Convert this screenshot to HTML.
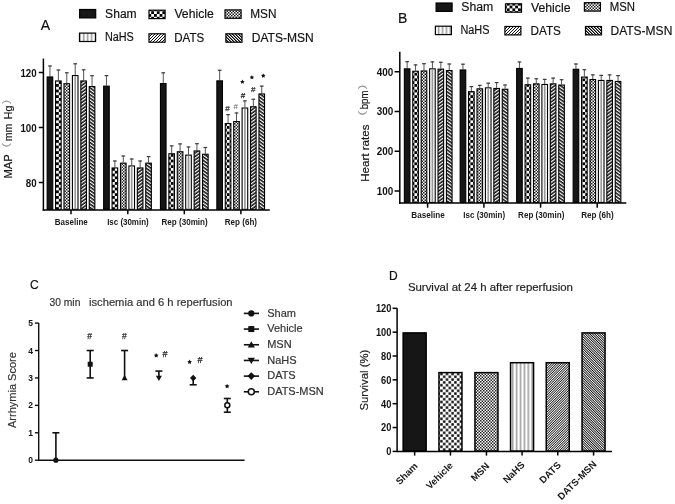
<!DOCTYPE html><html><head><meta charset="utf-8"><style>html,body{margin:0;padding:0;background:#fff;}body{width:675px;height:504px;overflow:hidden;}svg{display:block;font-family:"Liberation Sans", sans-serif;will-change:transform;}</style></head><body>
<svg width="675" height="504" viewBox="0 0 675 504">
<defs>
<pattern id="pVeh" width="5.6" height="5.6" patternUnits="userSpaceOnUse"><rect width="5.6" height="5.6" fill="#fff"/><rect width="2.8" height="2.8" fill="#000"/><rect x="2.8" y="2.8" width="2.8" height="2.8" fill="#000"/></pattern>
<pattern id="pVehD" x="0.4" y="0.2" width="5.6" height="5.6" patternUnits="userSpaceOnUse"><rect width="5.6" height="5.6" fill="#fff"/><rect x="0.2" y="0.2" width="2.4" height="2.4" fill="#000"/><rect x="3.0" y="3.0" width="2.4" height="2.4" fill="#000"/></pattern>
<pattern id="pMsn" width="3" height="3" patternUnits="userSpaceOnUse"><rect width="3" height="3" fill="#fff"/><rect width="1.5" height="1.5" fill="#222"/><rect x="1.5" y="1.5" width="1.5" height="1.5" fill="#222"/></pattern>
<pattern id="pNahs" width="3.9" height="4" patternUnits="userSpaceOnUse"><rect width="3.9" height="4" fill="#fff"/><rect x="1.4" width="0.9" height="4" fill="#555"/></pattern>
<pattern id="pDats" width="1.72" height="4" patternUnits="userSpaceOnUse" patternTransform="rotate(45)"><rect width="1.72" height="4" fill="#fff"/><rect width="0.8" height="4" fill="#111"/></pattern>
<pattern id="pDm" width="1.72" height="4" patternUnits="userSpaceOnUse" patternTransform="rotate(-45)"><rect width="1.72" height="4" fill="#fff"/><rect width="0.88" height="4" fill="#111"/></pattern>
<pattern id="pDatsL" width="3" height="3" patternUnits="userSpaceOnUse" shape-rendering="crispEdges"><rect width="3" height="3" fill="#fff"/><rect x="0" y="2" width="1" height="1" fill="#111"/><rect x="1" y="1" width="1" height="1" fill="#111"/><rect x="2" y="0" width="1" height="1" fill="#111"/></pattern>
<pattern id="pDmL" width="3" height="3" patternUnits="userSpaceOnUse" shape-rendering="crispEdges"><rect width="3" height="3" fill="#fff"/><rect x="0" y="0" width="1" height="1" fill="#000"/><rect x="1" y="1" width="1" height="1" fill="#000"/><rect x="2" y="2" width="1" height="1" fill="#000"/><rect x="1" y="0" width="1" height="1" fill="#777"/><rect x="2" y="1" width="1" height="1" fill="#777"/><rect x="0" y="2" width="1" height="1" fill="#777"/></pattern>
<pattern id="pDatsS" width="2.8" height="4" patternUnits="userSpaceOnUse" patternTransform="rotate(55)"><rect width="2.8" height="4" fill="#111"/><rect width="1.25" height="4" fill="#fff"/></pattern>
<pattern id="pDmS" width="2.8" height="4" patternUnits="userSpaceOnUse" patternTransform="rotate(-55)"><rect width="2.8" height="4" fill="#111"/><rect width="1.25" height="4" fill="#fff"/></pattern>
</defs>
<text x="40.70" y="30.30" font-size="14" text-anchor="start" fill="#111" stroke="#111" stroke-width="0.18">A</text>
<rect x="79.60" y="9.50" width="16.10" height="8.40" fill="#161616" stroke="#000" stroke-width="1.2"/>
<text x="105.10" y="17.90" font-size="12" text-anchor="start" fill="#111" stroke="#111" stroke-width="0.18" textLength="31.6" lengthAdjust="spacingAndGlyphs">Sham</text>
<rect x="149.00" y="10.20" width="16.10" height="8.40" fill="url(#pVeh)" stroke="#000" stroke-width="1.2"/>
<text x="174.40" y="18.40" font-size="12" text-anchor="start" fill="#111" stroke="#111" stroke-width="0.18" textLength="39.4" lengthAdjust="spacingAndGlyphs">Vehicle</text>
<rect x="225.00" y="9.90" width="16.10" height="8.40" fill="url(#pMsn)" stroke="#000" stroke-width="1.2"/>
<text x="250.30" y="18.10" font-size="12" text-anchor="start" fill="#111" stroke="#111" stroke-width="0.18" textLength="26.2" lengthAdjust="spacingAndGlyphs">MSN</text>
<rect x="79.50" y="33.10" width="16.10" height="8.40" fill="url(#pNahs)" stroke="#000" stroke-width="1.2"/>
<text x="104.90" y="40.90" font-size="12" text-anchor="start" fill="#111" stroke="#111" stroke-width="0.18" textLength="28.9" lengthAdjust="spacingAndGlyphs">NaHS</text>
<rect x="149.00" y="33.80" width="16.10" height="8.40" fill="url(#pDatsL)" stroke="#000" stroke-width="1.2"/>
<text x="174.30" y="41.60" font-size="12" text-anchor="start" fill="#111" stroke="#111" stroke-width="0.18" textLength="29.9" lengthAdjust="spacingAndGlyphs">DATS</text>
<rect x="225.90" y="33.80" width="16.10" height="8.40" fill="url(#pDmL)" stroke="#000" stroke-width="1.2"/>
<text x="251.70" y="41.60" font-size="12" text-anchor="start" fill="#111" stroke="#111" stroke-width="0.18" textLength="62.0" lengthAdjust="spacingAndGlyphs">DATS-MSN</text>
<g stroke="#000" stroke-width="1.5" fill="none">
<line x1="43.4" y1="58.6" x2="43.4" y2="210.6"/>
<line x1="42.6" y1="209.9" x2="269.8" y2="209.9"/>
<line x1="38.8" y1="72.50" x2="43.4" y2="72.50"/>
<line x1="38.8" y1="127.50" x2="43.4" y2="127.50"/>
<line x1="38.8" y1="182.50" x2="43.4" y2="182.50"/>
<line x1="71.0" y1="209.9" x2="71.0" y2="214.3"/>
<line x1="127.8" y1="209.9" x2="127.8" y2="214.3"/>
<line x1="184.3" y1="209.9" x2="184.3" y2="214.3"/>
<line x1="240.9" y1="209.9" x2="240.9" y2="214.3"/>
</g>
<text x="36.60" y="76.50" font-size="11" font-weight="bold" text-anchor="end" fill="#111" textLength="16.2" lengthAdjust="spacingAndGlyphs">120</text>
<text x="36.60" y="131.50" font-size="11" font-weight="bold" text-anchor="end" fill="#111" textLength="16.2" lengthAdjust="spacingAndGlyphs">100</text>
<text x="36.60" y="186.50" font-size="11" font-weight="bold" text-anchor="end" fill="#111" textLength="10.8" lengthAdjust="spacingAndGlyphs">80</text>
<text transform="translate(11.90,178.60) rotate(-90)" font-size="11.5" text-anchor="start" fill="#111" stroke="#111" stroke-width="0.18" textLength="24.2" lengthAdjust="spacingAndGlyphs">MAP</text>
<text transform="translate(8.60,147.60) rotate(-90)" font-size="9" text-anchor="start" fill="#999" textLength="4.6" lengthAdjust="spacingAndGlyphs">(</text>
<text transform="translate(11.90,141.30) rotate(-90)" font-size="11.5" text-anchor="start" fill="#111" stroke="#111" stroke-width="0.18" textLength="17.5" lengthAdjust="spacingAndGlyphs">mm</text>
<text transform="translate(11.90,119.20) rotate(-90)" font-size="11.5" text-anchor="start" fill="#111" stroke="#111" stroke-width="0.18" textLength="13.5" lengthAdjust="spacingAndGlyphs">Hg</text>
<text transform="translate(8.60,104.30) rotate(-90)" font-size="9" text-anchor="start" fill="#999" textLength="4.6" lengthAdjust="spacingAndGlyphs">)</text>
<text x="71.30" y="224.70" font-size="8.7" font-weight="bold" text-anchor="middle" fill="#1a1a1a" textLength="32.9" lengthAdjust="spacingAndGlyphs">Baseline</text>
<text x="127.90" y="224.70" font-size="8.7" font-weight="bold" text-anchor="middle" fill="#1a1a1a" textLength="41.5" lengthAdjust="spacingAndGlyphs">Isc (30min)</text>
<text x="184.60" y="224.70" font-size="8.7" font-weight="bold" text-anchor="middle" fill="#1a1a1a" textLength="46.2" lengthAdjust="spacingAndGlyphs">Rep (30min)</text>
<text x="240.90" y="224.70" font-size="8.7" font-weight="bold" text-anchor="middle" fill="#1a1a1a" textLength="32.3" lengthAdjust="spacingAndGlyphs">Rep (6h)</text>
<line x1="49.95" y1="76.40" x2="49.95" y2="65.50" stroke="#555" stroke-width="1.0"/>
<line x1="48.10" y1="66.00" x2="51.80" y2="66.00" stroke="#3a3a3a" stroke-width="1.2"/>
<rect x="47.15" y="76.95" width="5.60" height="132.35" fill="#161616" stroke="#000" stroke-width="1.1"/>
<line x1="58.37" y1="80.40" x2="58.37" y2="69.50" stroke="#555" stroke-width="1.0"/>
<line x1="56.52" y1="70.00" x2="60.22" y2="70.00" stroke="#3a3a3a" stroke-width="1.2"/>
<rect x="55.57" y="80.95" width="5.60" height="128.35" fill="url(#pVeh)" stroke="#000" stroke-width="1.1"/>
<line x1="66.79" y1="83.20" x2="66.79" y2="72.30" stroke="#555" stroke-width="1.0"/>
<line x1="64.94" y1="72.80" x2="68.64" y2="72.80" stroke="#3a3a3a" stroke-width="1.2"/>
<rect x="63.99" y="83.75" width="5.60" height="125.55" fill="url(#pMsn)" stroke="#000" stroke-width="1.1"/>
<line x1="75.21" y1="75.00" x2="75.21" y2="63.30" stroke="#555" stroke-width="1.0"/>
<line x1="73.36" y1="63.80" x2="77.06" y2="63.80" stroke="#3a3a3a" stroke-width="1.2"/>
<rect x="72.41" y="75.55" width="5.60" height="133.75" fill="#fff" stroke="#000" stroke-width="1.1"/>
<line x1="75.21" y1="76.20" x2="75.21" y2="209" stroke="#999" stroke-width="1.7"/>
<line x1="83.63" y1="80.40" x2="83.63" y2="69.30" stroke="#555" stroke-width="1.0"/>
<line x1="81.78" y1="69.80" x2="85.48" y2="69.80" stroke="#3a3a3a" stroke-width="1.2"/>
<rect x="80.83" y="80.95" width="5.60" height="128.35" fill="url(#pDatsS)" stroke="#000" stroke-width="1.1"/>
<line x1="92.05" y1="86.00" x2="92.05" y2="75.20" stroke="#555" stroke-width="1.0"/>
<line x1="90.20" y1="75.70" x2="93.90" y2="75.70" stroke="#3a3a3a" stroke-width="1.2"/>
<rect x="89.25" y="86.55" width="5.60" height="122.75" fill="url(#pDmS)" stroke="#000" stroke-width="1.1"/>
<line x1="106.45" y1="85.60" x2="106.45" y2="75.10" stroke="#555" stroke-width="1.0"/>
<line x1="104.60" y1="75.60" x2="108.30" y2="75.60" stroke="#3a3a3a" stroke-width="1.2"/>
<rect x="103.65" y="86.15" width="5.60" height="123.15" fill="#161616" stroke="#000" stroke-width="1.1"/>
<line x1="114.87" y1="167.40" x2="114.87" y2="160.50" stroke="#555" stroke-width="1.0"/>
<line x1="113.02" y1="161.00" x2="116.72" y2="161.00" stroke="#3a3a3a" stroke-width="1.2"/>
<rect x="112.07" y="167.95" width="5.60" height="41.35" fill="url(#pVeh)" stroke="#000" stroke-width="1.1"/>
<line x1="123.29" y1="162.60" x2="123.29" y2="155.50" stroke="#555" stroke-width="1.0"/>
<line x1="121.44" y1="156.00" x2="125.14" y2="156.00" stroke="#3a3a3a" stroke-width="1.2"/>
<rect x="120.49" y="163.15" width="5.60" height="46.15" fill="url(#pMsn)" stroke="#000" stroke-width="1.1"/>
<line x1="131.71" y1="165.40" x2="131.71" y2="158.50" stroke="#555" stroke-width="1.0"/>
<line x1="129.86" y1="159.00" x2="133.56" y2="159.00" stroke="#3a3a3a" stroke-width="1.2"/>
<rect x="128.91" y="165.95" width="5.60" height="43.35" fill="#fff" stroke="#000" stroke-width="1.1"/>
<line x1="131.71" y1="166.60" x2="131.71" y2="209" stroke="#999" stroke-width="1.7"/>
<line x1="140.13" y1="167.40" x2="140.13" y2="160.50" stroke="#555" stroke-width="1.0"/>
<line x1="138.28" y1="161.00" x2="141.98" y2="161.00" stroke="#3a3a3a" stroke-width="1.2"/>
<rect x="137.33" y="167.95" width="5.60" height="41.35" fill="url(#pDatsS)" stroke="#000" stroke-width="1.1"/>
<line x1="148.55" y1="162.60" x2="148.55" y2="156.10" stroke="#555" stroke-width="1.0"/>
<line x1="146.70" y1="156.60" x2="150.40" y2="156.60" stroke="#3a3a3a" stroke-width="1.2"/>
<rect x="145.75" y="163.15" width="5.60" height="46.15" fill="url(#pDmS)" stroke="#000" stroke-width="1.1"/>
<line x1="163.25" y1="83.00" x2="163.25" y2="72.30" stroke="#555" stroke-width="1.0"/>
<line x1="161.40" y1="72.80" x2="165.10" y2="72.80" stroke="#3a3a3a" stroke-width="1.2"/>
<rect x="160.45" y="83.55" width="5.60" height="125.75" fill="#161616" stroke="#000" stroke-width="1.1"/>
<line x1="171.67" y1="153.20" x2="171.67" y2="145.40" stroke="#555" stroke-width="1.0"/>
<line x1="169.82" y1="145.90" x2="173.52" y2="145.90" stroke="#3a3a3a" stroke-width="1.2"/>
<rect x="168.87" y="153.75" width="5.60" height="55.55" fill="url(#pVeh)" stroke="#000" stroke-width="1.1"/>
<line x1="180.09" y1="151.20" x2="180.09" y2="143.40" stroke="#555" stroke-width="1.0"/>
<line x1="178.24" y1="143.90" x2="181.94" y2="143.90" stroke="#3a3a3a" stroke-width="1.2"/>
<rect x="177.29" y="151.75" width="5.60" height="57.55" fill="url(#pMsn)" stroke="#000" stroke-width="1.1"/>
<line x1="188.51" y1="154.60" x2="188.51" y2="146.50" stroke="#555" stroke-width="1.0"/>
<line x1="186.66" y1="147.00" x2="190.36" y2="147.00" stroke="#3a3a3a" stroke-width="1.2"/>
<rect x="185.71" y="155.15" width="5.60" height="54.15" fill="#fff" stroke="#000" stroke-width="1.1"/>
<line x1="188.51" y1="155.80" x2="188.51" y2="209" stroke="#999" stroke-width="1.7"/>
<line x1="196.93" y1="150.40" x2="196.93" y2="143.20" stroke="#555" stroke-width="1.0"/>
<line x1="195.08" y1="143.70" x2="198.78" y2="143.70" stroke="#3a3a3a" stroke-width="1.2"/>
<rect x="194.13" y="150.95" width="5.60" height="58.35" fill="url(#pDatsS)" stroke="#000" stroke-width="1.1"/>
<line x1="205.35" y1="153.70" x2="205.35" y2="147.00" stroke="#555" stroke-width="1.0"/>
<line x1="203.50" y1="147.50" x2="207.20" y2="147.50" stroke="#3a3a3a" stroke-width="1.2"/>
<rect x="202.55" y="154.25" width="5.60" height="55.05" fill="url(#pDmS)" stroke="#000" stroke-width="1.1"/>
<line x1="219.65" y1="80.30" x2="219.65" y2="69.80" stroke="#555" stroke-width="1.0"/>
<line x1="217.80" y1="70.30" x2="221.50" y2="70.30" stroke="#3a3a3a" stroke-width="1.2"/>
<rect x="216.85" y="80.85" width="5.60" height="128.45" fill="#161616" stroke="#000" stroke-width="1.1"/>
<line x1="228.07" y1="123.00" x2="228.07" y2="114.10" stroke="#555" stroke-width="1.0"/>
<line x1="226.22" y1="114.60" x2="229.92" y2="114.60" stroke="#3a3a3a" stroke-width="1.2"/>
<rect x="225.27" y="123.55" width="5.60" height="85.75" fill="url(#pVeh)" stroke="#000" stroke-width="1.1"/>
<line x1="236.49" y1="121.00" x2="236.49" y2="112.50" stroke="#555" stroke-width="1.0"/>
<line x1="234.64" y1="113.00" x2="238.34" y2="113.00" stroke="#3a3a3a" stroke-width="1.2"/>
<rect x="233.69" y="121.55" width="5.60" height="87.75" fill="url(#pMsn)" stroke="#000" stroke-width="1.1"/>
<line x1="244.91" y1="107.50" x2="244.91" y2="100.40" stroke="#555" stroke-width="1.0"/>
<line x1="243.06" y1="100.90" x2="246.76" y2="100.90" stroke="#3a3a3a" stroke-width="1.2"/>
<rect x="242.11" y="108.05" width="5.60" height="101.25" fill="#fff" stroke="#000" stroke-width="1.1"/>
<line x1="244.91" y1="108.70" x2="244.91" y2="209" stroke="#999" stroke-width="1.7"/>
<line x1="253.33" y1="106.20" x2="253.33" y2="98.75" stroke="#555" stroke-width="1.0"/>
<line x1="251.48" y1="99.25" x2="255.18" y2="99.25" stroke="#3a3a3a" stroke-width="1.2"/>
<rect x="250.53" y="106.75" width="5.60" height="102.55" fill="url(#pDatsS)" stroke="#000" stroke-width="1.1"/>
<line x1="261.75" y1="93.40" x2="261.75" y2="85.60" stroke="#555" stroke-width="1.0"/>
<line x1="259.90" y1="86.10" x2="263.60" y2="86.10" stroke="#3a3a3a" stroke-width="1.2"/>
<rect x="258.95" y="93.95" width="5.60" height="115.35" fill="url(#pDmS)" stroke="#000" stroke-width="1.1"/>
<polygon points="242.40,79.50 243.11,80.93 244.68,81.16 243.54,82.27 243.81,83.84 242.40,83.10 240.99,83.84 241.26,82.27 240.12,81.16 241.69,80.93" fill="#111"/>
<polygon points="251.90,75.00 252.61,76.43 254.18,76.66 253.04,77.77 253.31,79.34 251.90,78.60 250.49,79.34 250.76,77.77 249.62,76.66 251.19,76.43" fill="#111"/>
<polygon points="263.30,73.40 264.01,74.83 265.58,75.06 264.44,76.17 264.71,77.74 263.30,77.00 261.89,77.74 262.16,76.17 261.02,75.06 262.59,74.83" fill="#111"/>
<text x="243.00" y="98.48" font-size="8" text-anchor="middle" fill="#222" stroke="#222" stroke-width="0.25">#</text>
<text x="253.30" y="91.88" font-size="8" text-anchor="middle" fill="#333" stroke="#333" stroke-width="0.25">#</text>
<text x="227.50" y="110.88" font-size="8" text-anchor="middle" fill="#333" stroke="#333" stroke-width="0.25">#</text>
<text x="235.70" y="108.68" font-size="8" text-anchor="middle" fill="#777" stroke="#777" stroke-width="0.1">#</text>
<text x="398.00" y="22.50" font-size="14" text-anchor="start" fill="#111" stroke="#111" stroke-width="0.18">B</text>
<rect x="436.10" y="3.00" width="16.00" height="8.40" fill="#161616" stroke="#000" stroke-width="1.2"/>
<text x="461.30" y="11.20" font-size="12" text-anchor="start" fill="#111" stroke="#111" stroke-width="0.18" textLength="32.0" lengthAdjust="spacingAndGlyphs">Sham</text>
<rect x="505.50" y="3.80" width="16.00" height="8.40" fill="url(#pVeh)" stroke="#000" stroke-width="1.2"/>
<text x="531.00" y="12.00" font-size="12" text-anchor="start" fill="#111" stroke="#111" stroke-width="0.18" textLength="39.5" lengthAdjust="spacingAndGlyphs">Vehicle</text>
<rect x="584.40" y="2.70" width="16.00" height="8.40" fill="url(#pMsn)" stroke="#000" stroke-width="1.2"/>
<text x="609.70" y="10.90" font-size="12" text-anchor="start" fill="#111" stroke="#111" stroke-width="0.18" textLength="25.3" lengthAdjust="spacingAndGlyphs">MSN</text>
<rect x="435.40" y="26.20" width="16.00" height="8.40" fill="url(#pNahs)" stroke="#000" stroke-width="1.2"/>
<text x="460.40" y="34.40" font-size="12" text-anchor="start" fill="#111" stroke="#111" stroke-width="0.18" textLength="29.0" lengthAdjust="spacingAndGlyphs">NaHS</text>
<rect x="504.90" y="26.50" width="16.00" height="8.40" fill="url(#pDatsL)" stroke="#000" stroke-width="1.2"/>
<text x="530.50" y="34.60" font-size="12" text-anchor="start" fill="#111" stroke="#111" stroke-width="0.18" textLength="30.4" lengthAdjust="spacingAndGlyphs">DATS</text>
<rect x="585.50" y="26.50" width="16.00" height="8.40" fill="url(#pDmL)" stroke="#000" stroke-width="1.2"/>
<text x="610.50" y="34.60" font-size="12" text-anchor="start" fill="#111" stroke="#111" stroke-width="0.18" textLength="61.8" lengthAdjust="spacingAndGlyphs">DATS-MSN</text>
<g stroke="#000" stroke-width="1.5" fill="none">
<line x1="399.8" y1="51.7" x2="399.8" y2="203.7"/>
<line x1="399.1" y1="203.0" x2="626.3" y2="203.0"/>
<line x1="394.6" y1="71.75" x2="399.8" y2="71.75"/>
<line x1="394.6" y1="111.50" x2="399.8" y2="111.50"/>
<line x1="394.6" y1="151.25" x2="399.8" y2="151.25"/>
<line x1="394.6" y1="191.00" x2="399.8" y2="191.00"/>
<line x1="427.6" y1="203.0" x2="427.6" y2="207.7"/>
<line x1="483.9" y1="203.0" x2="483.9" y2="207.7"/>
<line x1="540.6" y1="203.0" x2="540.6" y2="207.7"/>
<line x1="597.2" y1="203.0" x2="597.2" y2="207.7"/>
</g>
<text x="393.20" y="75.65" font-size="11" font-weight="bold" text-anchor="end" fill="#111" textLength="16.5" lengthAdjust="spacingAndGlyphs">400</text>
<text x="393.20" y="115.40" font-size="11" font-weight="bold" text-anchor="end" fill="#111" textLength="16.5" lengthAdjust="spacingAndGlyphs">300</text>
<text x="393.20" y="155.15" font-size="11" font-weight="bold" text-anchor="end" fill="#111" textLength="16.5" lengthAdjust="spacingAndGlyphs">200</text>
<text x="393.20" y="194.90" font-size="11" font-weight="bold" text-anchor="end" fill="#111" textLength="16.5" lengthAdjust="spacingAndGlyphs">100</text>
<text transform="translate(368.60,181.80) rotate(-90)" font-size="11.5" text-anchor="start" fill="#111" stroke="#111" stroke-width="0.18" textLength="57.3" lengthAdjust="spacingAndGlyphs">Heart rates</text>
<text transform="translate(365.40,115.80) rotate(-90)" font-size="9" text-anchor="start" fill="#999" textLength="5.0" lengthAdjust="spacingAndGlyphs">(</text>
<text transform="translate(368.30,109.20) rotate(-90)" font-size="11.5" text-anchor="start" fill="#111" stroke="#111" stroke-width="0.18" textLength="18.5" lengthAdjust="spacingAndGlyphs">bpm</text>
<text transform="translate(365.40,89.60) rotate(-90)" font-size="9" text-anchor="start" fill="#999" textLength="5.0" lengthAdjust="spacingAndGlyphs">)</text>
<text x="428.00" y="217.60" font-size="8.7" font-weight="bold" text-anchor="middle" fill="#1a1a1a" textLength="33.5" lengthAdjust="spacingAndGlyphs">Baseline</text>
<text x="484.20" y="217.60" font-size="8.7" font-weight="bold" text-anchor="middle" fill="#1a1a1a" textLength="41.7" lengthAdjust="spacingAndGlyphs">Isc (30min)</text>
<text x="541.20" y="217.60" font-size="8.7" font-weight="bold" text-anchor="middle" fill="#1a1a1a" textLength="46.3" lengthAdjust="spacingAndGlyphs">Rep (30min)</text>
<text x="597.40" y="217.60" font-size="8.7" font-weight="bold" text-anchor="middle" fill="#1a1a1a" textLength="32.5" lengthAdjust="spacingAndGlyphs">Rep (6h)</text>
<line x1="407.15" y1="68.30" x2="407.15" y2="61.20" stroke="#555" stroke-width="1.0"/>
<line x1="405.30" y1="61.70" x2="409.00" y2="61.70" stroke="#3a3a3a" stroke-width="1.2"/>
<rect x="404.35" y="68.85" width="5.60" height="133.55" fill="#161616" stroke="#000" stroke-width="1.1"/>
<line x1="415.57" y1="70.70" x2="415.57" y2="64.40" stroke="#555" stroke-width="1.0"/>
<line x1="413.72" y1="64.90" x2="417.42" y2="64.90" stroke="#3a3a3a" stroke-width="1.2"/>
<rect x="412.77" y="71.25" width="5.60" height="131.15" fill="url(#pVeh)" stroke="#000" stroke-width="1.1"/>
<line x1="423.99" y1="70.40" x2="423.99" y2="63.20" stroke="#555" stroke-width="1.0"/>
<line x1="422.14" y1="63.70" x2="425.84" y2="63.70" stroke="#3a3a3a" stroke-width="1.2"/>
<rect x="421.19" y="70.95" width="5.60" height="131.45" fill="url(#pMsn)" stroke="#000" stroke-width="1.1"/>
<line x1="432.41" y1="68.30" x2="432.41" y2="61.40" stroke="#555" stroke-width="1.0"/>
<line x1="430.56" y1="61.90" x2="434.26" y2="61.90" stroke="#3a3a3a" stroke-width="1.2"/>
<rect x="429.61" y="68.85" width="5.60" height="133.55" fill="#fff" stroke="#000" stroke-width="1.1"/>
<line x1="432.41" y1="69.50" x2="432.41" y2="202" stroke="#999" stroke-width="1.7"/>
<line x1="440.83" y1="68.60" x2="440.83" y2="61.80" stroke="#555" stroke-width="1.0"/>
<line x1="438.98" y1="62.30" x2="442.68" y2="62.30" stroke="#3a3a3a" stroke-width="1.2"/>
<rect x="438.03" y="69.15" width="5.60" height="133.25" fill="url(#pDatsS)" stroke="#000" stroke-width="1.1"/>
<line x1="449.25" y1="70.00" x2="449.25" y2="63.50" stroke="#555" stroke-width="1.0"/>
<line x1="447.40" y1="64.00" x2="451.10" y2="64.00" stroke="#3a3a3a" stroke-width="1.2"/>
<rect x="446.45" y="70.55" width="5.60" height="131.85" fill="url(#pDmS)" stroke="#000" stroke-width="1.1"/>
<line x1="462.95" y1="69.40" x2="462.95" y2="63.70" stroke="#555" stroke-width="1.0"/>
<line x1="461.10" y1="64.20" x2="464.80" y2="64.20" stroke="#3a3a3a" stroke-width="1.2"/>
<rect x="460.15" y="69.95" width="5.60" height="132.45" fill="#161616" stroke="#000" stroke-width="1.1"/>
<line x1="471.37" y1="91.10" x2="471.37" y2="86.10" stroke="#555" stroke-width="1.0"/>
<line x1="469.52" y1="86.60" x2="473.22" y2="86.60" stroke="#3a3a3a" stroke-width="1.2"/>
<rect x="468.57" y="91.65" width="5.60" height="110.75" fill="url(#pVeh)" stroke="#000" stroke-width="1.1"/>
<line x1="479.79" y1="88.30" x2="479.79" y2="84.90" stroke="#555" stroke-width="1.0"/>
<line x1="477.94" y1="85.40" x2="481.64" y2="85.40" stroke="#3a3a3a" stroke-width="1.2"/>
<rect x="476.99" y="88.85" width="5.60" height="113.55" fill="url(#pMsn)" stroke="#000" stroke-width="1.1"/>
<line x1="488.21" y1="87.30" x2="488.21" y2="82.70" stroke="#555" stroke-width="1.0"/>
<line x1="486.36" y1="83.20" x2="490.06" y2="83.20" stroke="#3a3a3a" stroke-width="1.2"/>
<rect x="485.41" y="87.85" width="5.60" height="114.55" fill="#fff" stroke="#000" stroke-width="1.1"/>
<line x1="488.21" y1="88.50" x2="488.21" y2="202" stroke="#999" stroke-width="1.7"/>
<line x1="496.63" y1="87.90" x2="496.63" y2="82.10" stroke="#555" stroke-width="1.0"/>
<line x1="494.78" y1="82.60" x2="498.48" y2="82.60" stroke="#3a3a3a" stroke-width="1.2"/>
<rect x="493.83" y="88.45" width="5.60" height="113.95" fill="url(#pDatsS)" stroke="#000" stroke-width="1.1"/>
<line x1="505.05" y1="88.70" x2="505.05" y2="84.50" stroke="#555" stroke-width="1.0"/>
<line x1="503.20" y1="85.00" x2="506.90" y2="85.00" stroke="#3a3a3a" stroke-width="1.2"/>
<rect x="502.25" y="89.25" width="5.60" height="113.15" fill="url(#pDmS)" stroke="#000" stroke-width="1.1"/>
<line x1="519.45" y1="67.90" x2="519.45" y2="61.50" stroke="#555" stroke-width="1.0"/>
<line x1="517.60" y1="62.00" x2="521.30" y2="62.00" stroke="#3a3a3a" stroke-width="1.2"/>
<rect x="516.65" y="68.45" width="5.60" height="133.95" fill="#161616" stroke="#000" stroke-width="1.1"/>
<line x1="527.87" y1="84.20" x2="527.87" y2="77.60" stroke="#555" stroke-width="1.0"/>
<line x1="526.02" y1="78.10" x2="529.72" y2="78.10" stroke="#3a3a3a" stroke-width="1.2"/>
<rect x="525.07" y="84.75" width="5.60" height="117.65" fill="url(#pVeh)" stroke="#000" stroke-width="1.1"/>
<line x1="536.29" y1="83.30" x2="536.29" y2="78.30" stroke="#555" stroke-width="1.0"/>
<line x1="534.44" y1="78.80" x2="538.14" y2="78.80" stroke="#3a3a3a" stroke-width="1.2"/>
<rect x="533.49" y="83.85" width="5.60" height="118.55" fill="url(#pMsn)" stroke="#000" stroke-width="1.1"/>
<line x1="544.71" y1="83.90" x2="544.71" y2="78.90" stroke="#555" stroke-width="1.0"/>
<line x1="542.86" y1="79.40" x2="546.56" y2="79.40" stroke="#3a3a3a" stroke-width="1.2"/>
<rect x="541.91" y="84.45" width="5.60" height="117.95" fill="#fff" stroke="#000" stroke-width="1.1"/>
<line x1="544.71" y1="85.10" x2="544.71" y2="202" stroke="#999" stroke-width="1.7"/>
<line x1="553.13" y1="83.30" x2="553.13" y2="77.60" stroke="#555" stroke-width="1.0"/>
<line x1="551.28" y1="78.10" x2="554.98" y2="78.10" stroke="#3a3a3a" stroke-width="1.2"/>
<rect x="550.33" y="83.85" width="5.60" height="118.55" fill="url(#pDatsS)" stroke="#000" stroke-width="1.1"/>
<line x1="561.55" y1="84.50" x2="561.55" y2="79.20" stroke="#555" stroke-width="1.0"/>
<line x1="559.70" y1="79.70" x2="563.40" y2="79.70" stroke="#3a3a3a" stroke-width="1.2"/>
<rect x="558.75" y="85.05" width="5.60" height="117.35" fill="url(#pDmS)" stroke="#000" stroke-width="1.1"/>
<line x1="575.95" y1="68.70" x2="575.95" y2="63.50" stroke="#555" stroke-width="1.0"/>
<line x1="574.10" y1="64.00" x2="577.80" y2="64.00" stroke="#3a3a3a" stroke-width="1.2"/>
<rect x="573.15" y="69.25" width="5.60" height="133.15" fill="#161616" stroke="#000" stroke-width="1.1"/>
<line x1="584.37" y1="76.50" x2="584.37" y2="69.20" stroke="#555" stroke-width="1.0"/>
<line x1="582.52" y1="69.70" x2="586.22" y2="69.70" stroke="#3a3a3a" stroke-width="1.2"/>
<rect x="581.57" y="77.05" width="5.60" height="125.35" fill="url(#pVeh)" stroke="#000" stroke-width="1.1"/>
<line x1="592.79" y1="79.00" x2="592.79" y2="74.40" stroke="#555" stroke-width="1.0"/>
<line x1="590.94" y1="74.90" x2="594.64" y2="74.90" stroke="#3a3a3a" stroke-width="1.2"/>
<rect x="589.99" y="79.55" width="5.60" height="122.85" fill="url(#pMsn)" stroke="#000" stroke-width="1.1"/>
<line x1="601.21" y1="79.90" x2="601.21" y2="74.90" stroke="#555" stroke-width="1.0"/>
<line x1="599.36" y1="75.40" x2="603.06" y2="75.40" stroke="#3a3a3a" stroke-width="1.2"/>
<rect x="598.41" y="80.45" width="5.60" height="121.95" fill="#fff" stroke="#000" stroke-width="1.1"/>
<line x1="601.21" y1="81.10" x2="601.21" y2="202" stroke="#999" stroke-width="1.7"/>
<line x1="609.63" y1="79.90" x2="609.63" y2="74.40" stroke="#555" stroke-width="1.0"/>
<line x1="607.78" y1="74.90" x2="611.48" y2="74.90" stroke="#3a3a3a" stroke-width="1.2"/>
<rect x="606.83" y="80.45" width="5.60" height="121.95" fill="url(#pDatsS)" stroke="#000" stroke-width="1.1"/>
<line x1="618.05" y1="80.90" x2="618.05" y2="75.10" stroke="#555" stroke-width="1.0"/>
<line x1="616.20" y1="75.60" x2="619.90" y2="75.60" stroke="#3a3a3a" stroke-width="1.2"/>
<rect x="615.25" y="81.45" width="5.60" height="120.95" fill="url(#pDmS)" stroke="#000" stroke-width="1.1"/>
<text x="29.90" y="288.50" font-size="12" text-anchor="start" fill="#111" stroke="#111" stroke-width="0.18">C</text>
<text x="49.40" y="306.40" font-size="10.7" text-anchor="start" fill="#333" stroke="#333" stroke-width="0.18" textLength="31.0" lengthAdjust="spacingAndGlyphs">30 min</text>
<text x="89.00" y="306.40" font-size="10.7" text-anchor="start" fill="#333" stroke="#333" stroke-width="0.18" textLength="143.6" lengthAdjust="spacingAndGlyphs">ischemia and 6 h reperfusion</text>
<g stroke="#111" stroke-width="1.4" fill="none">
<line x1="38.7" y1="323.10" x2="38.7" y2="460.9"/>
<line x1="38.1" y1="460.2" x2="244.6" y2="460.2"/>
<line x1="34.9" y1="460.20" x2="38.7" y2="460.20"/>
<line x1="34.9" y1="432.78" x2="38.7" y2="432.78"/>
<line x1="34.9" y1="405.36" x2="38.7" y2="405.36"/>
<line x1="34.9" y1="377.94" x2="38.7" y2="377.94"/>
<line x1="34.9" y1="350.52" x2="38.7" y2="350.52"/>
<line x1="34.9" y1="323.10" x2="38.7" y2="323.10"/>
</g>
<text x="33.00" y="463.20" font-size="8.5" font-weight="bold" text-anchor="end" fill="#111">0</text>
<text x="33.00" y="435.78" font-size="8.5" font-weight="bold" text-anchor="end" fill="#111">1</text>
<text x="33.00" y="408.36" font-size="8.5" font-weight="bold" text-anchor="end" fill="#111">2</text>
<text x="33.00" y="380.94" font-size="8.5" font-weight="bold" text-anchor="end" fill="#111">3</text>
<text x="33.00" y="353.52" font-size="8.5" font-weight="bold" text-anchor="end" fill="#111">4</text>
<text x="33.00" y="326.10" font-size="8.5" font-weight="bold" text-anchor="end" fill="#111">5</text>
<text transform="translate(16.20,428.00) rotate(-90)" font-size="10.8" text-anchor="start" fill="#333" stroke="#333" stroke-width="0.18" textLength="75.9" lengthAdjust="spacingAndGlyphs">Arrhymia Score</text>
<line x1="55.9" y1="432.78" x2="55.9" y2="460.20" stroke="#111" stroke-width="1.6"/>
<line x1="52.4" y1="432.78" x2="59.4" y2="432.78" stroke="#111" stroke-width="1.6"/>
<circle cx="55.9" cy="460.20" r="2.60" fill="#111"/>
<line x1="90.2" y1="350.52" x2="90.2" y2="377.94" stroke="#111" stroke-width="1.6"/>
<line x1="86.7" y1="350.52" x2="93.7" y2="350.52" stroke="#111" stroke-width="1.6"/>
<line x1="86.7" y1="377.94" x2="93.7" y2="377.94" stroke="#111" stroke-width="1.6"/>
<rect x="87.70" y="361.73" width="5.00" height="5.00" fill="#111"/>
<line x1="124.6" y1="350.52" x2="124.6" y2="377.94" stroke="#111" stroke-width="1.6"/>
<line x1="121.1" y1="350.52" x2="128.1" y2="350.52" stroke="#111" stroke-width="1.6"/>
<polygon points="124.60,374.94 127.60,380.14 121.60,380.14" fill="#111"/>
<line x1="158.9" y1="371.08" x2="158.9" y2="377.94" stroke="#111" stroke-width="1.6"/>
<line x1="155.4" y1="371.08" x2="162.4" y2="371.08" stroke="#111" stroke-width="1.6"/>
<polygon points="158.90,380.94 161.90,375.74 155.90,375.74" fill="#111"/>
<line x1="193.2" y1="377.94" x2="193.2" y2="384.79" stroke="#111" stroke-width="1.6"/>
<line x1="189.7" y1="384.79" x2="196.7" y2="384.79" stroke="#111" stroke-width="1.6"/>
<polygon points="193.20,374.74 196.40,377.94 193.20,381.14 190.00,377.94" fill="#111"/>
<line x1="227.3" y1="398.50" x2="227.3" y2="412.21" stroke="#111" stroke-width="1.6"/>
<line x1="223.8" y1="398.50" x2="230.8" y2="398.50" stroke="#111" stroke-width="1.6"/>
<line x1="223.8" y1="412.21" x2="230.8" y2="412.21" stroke="#111" stroke-width="1.6"/>
<circle cx="227.3" cy="405.36" r="2.50" fill="#fff" stroke="#111" stroke-width="1.5"/>
<text x="89.60" y="339.16" font-size="8.5" text-anchor="middle" fill="#333" stroke="#333" stroke-width="0.25">#</text>
<text x="124.40" y="339.06" font-size="8.5" text-anchor="middle" fill="#333" stroke="#333" stroke-width="0.25">#</text>
<polygon points="156.20,353.00 156.93,354.49 158.58,354.73 157.39,355.89 157.67,357.52 156.20,356.75 154.73,357.52 155.01,355.89 153.82,354.73 155.47,354.49" fill="#111"/>
<text x="165.00" y="357.14" font-size="9" text-anchor="middle" fill="#222" stroke="#222" stroke-width="0.25">#</text>
<polygon points="189.60,359.40 190.33,360.89 191.98,361.13 190.79,362.29 191.07,363.92 189.60,363.15 188.13,363.92 188.41,362.29 187.22,361.13 188.87,360.89" fill="#111"/>
<text x="200.00" y="362.74" font-size="9" text-anchor="middle" fill="#222" stroke="#222" stroke-width="0.25">#</text>
<polygon points="227.10,383.80 227.83,385.29 229.48,385.53 228.29,386.69 228.57,388.32 227.10,387.55 225.63,388.32 225.91,386.69 224.72,385.53 226.37,385.29" fill="#111"/>
<line x1="243.8" y1="313.40" x2="259.0" y2="313.40" stroke="#111" stroke-width="1.6"/>
<circle cx="251.3" cy="313.40" r="3.12" fill="#111"/>
<text x="267.20" y="316.70" font-size="11" text-anchor="start" fill="#333" stroke="#333" stroke-width="0.18">Sham</text>
<line x1="243.8" y1="329.08" x2="259.0" y2="329.08" stroke="#111" stroke-width="1.6"/>
<rect x="248.30" y="326.08" width="6.00" height="6.00" fill="#111"/>
<text x="267.20" y="332.38" font-size="11" text-anchor="start" fill="#333" stroke="#333" stroke-width="0.18">Vehicle</text>
<line x1="243.8" y1="344.76" x2="259.0" y2="344.76" stroke="#111" stroke-width="1.6"/>
<polygon points="251.30,341.16 254.90,347.40 247.70,347.40" fill="#111"/>
<text x="267.20" y="348.06" font-size="11" text-anchor="start" fill="#333" stroke="#333" stroke-width="0.18">MSN</text>
<line x1="243.8" y1="360.44" x2="259.0" y2="360.44" stroke="#111" stroke-width="1.6"/>
<polygon points="251.30,364.04 254.90,357.80 247.70,357.80" fill="#111"/>
<text x="267.20" y="363.74" font-size="11" text-anchor="start" fill="#333" stroke="#333" stroke-width="0.18">NaHS</text>
<line x1="243.8" y1="376.12" x2="259.0" y2="376.12" stroke="#111" stroke-width="1.6"/>
<polygon points="251.30,372.28 255.14,376.12 251.30,379.96 247.46,376.12" fill="#111"/>
<text x="267.20" y="379.42" font-size="11" text-anchor="start" fill="#333" stroke="#333" stroke-width="0.18">DATS</text>
<line x1="243.8" y1="391.80" x2="259.0" y2="391.80" stroke="#111" stroke-width="1.6"/>
<circle cx="251.3" cy="391.80" r="3.00" fill="#fff" stroke="#111" stroke-width="1.5"/>
<text x="267.20" y="395.10" font-size="11" text-anchor="start" fill="#333" stroke="#333" stroke-width="0.18">DATS-MSN</text>
<text x="388.90" y="279.80" font-size="12" text-anchor="start" fill="#111" stroke="#111" stroke-width="0.18">D</text>
<text x="407.90" y="290.50" font-size="10.8" text-anchor="start" fill="#222" stroke="#222" stroke-width="0.18" textLength="165.0" lengthAdjust="spacingAndGlyphs">Survival at 24 h after reperfusion</text>
<g stroke="#000" stroke-width="1.5" fill="none">
<line x1="397.1" y1="308.30" x2="397.1" y2="452.1"/>
<line x1="396.4" y1="451.4" x2="612.0" y2="451.4"/>
<line x1="392.6" y1="451.40" x2="397.1" y2="451.40"/>
<line x1="392.6" y1="427.55" x2="397.1" y2="427.55"/>
<line x1="392.6" y1="403.70" x2="397.1" y2="403.70"/>
<line x1="392.6" y1="379.85" x2="397.1" y2="379.85"/>
<line x1="392.6" y1="356.00" x2="397.1" y2="356.00"/>
<line x1="392.6" y1="332.15" x2="397.1" y2="332.15"/>
<line x1="392.6" y1="308.30" x2="397.1" y2="308.30"/>
<line x1="414.65" y1="451.4" x2="414.65" y2="455.6"/>
<line x1="450.45" y1="451.4" x2="450.45" y2="455.6"/>
<line x1="486.45" y1="451.4" x2="486.45" y2="455.6"/>
<line x1="522.05" y1="451.4" x2="522.05" y2="455.6"/>
<line x1="557.75" y1="451.4" x2="557.75" y2="455.6"/>
<line x1="593.55" y1="451.4" x2="593.55" y2="455.6"/>
</g>
<text x="391.40" y="455.30" font-size="10.8" font-weight="bold" text-anchor="end" fill="#111" textLength="5.15" lengthAdjust="spacingAndGlyphs">0</text>
<text x="391.40" y="431.45" font-size="10.8" font-weight="bold" text-anchor="end" fill="#111" textLength="10.3" lengthAdjust="spacingAndGlyphs">20</text>
<text x="391.40" y="407.60" font-size="10.8" font-weight="bold" text-anchor="end" fill="#111" textLength="10.3" lengthAdjust="spacingAndGlyphs">40</text>
<text x="391.40" y="383.75" font-size="10.8" font-weight="bold" text-anchor="end" fill="#111" textLength="10.3" lengthAdjust="spacingAndGlyphs">60</text>
<text x="391.40" y="359.90" font-size="10.8" font-weight="bold" text-anchor="end" fill="#111" textLength="10.3" lengthAdjust="spacingAndGlyphs">80</text>
<text x="391.40" y="336.05" font-size="10.8" font-weight="bold" text-anchor="end" fill="#111" textLength="15.450000000000001" lengthAdjust="spacingAndGlyphs">100</text>
<text x="391.40" y="312.20" font-size="10.8" font-weight="bold" text-anchor="end" fill="#111" textLength="15.450000000000001" lengthAdjust="spacingAndGlyphs">120</text>
<text transform="translate(367.50,410.60) rotate(-90)" font-size="11" text-anchor="start" fill="#222" stroke="#222" stroke-width="0.18" textLength="60.8" lengthAdjust="spacingAndGlyphs">Survival (%)</text>
<rect x="403.15" y="332.90" width="23.00" height="118.10" fill="#161616" stroke="#000" stroke-width="1.5"/>
<rect x="438.95" y="372.61" width="23.00" height="78.39" fill="url(#pVehD)" stroke="#000" stroke-width="1.5"/>
<rect x="474.95" y="372.61" width="23.00" height="78.39" fill="url(#pMsn)" stroke="#000" stroke-width="1.5"/>
<rect x="510.55" y="362.71" width="23.00" height="88.29" fill="url(#pNahs)" stroke="#000" stroke-width="1.5"/>
<rect x="546.25" y="362.71" width="23.00" height="88.29" fill="url(#pDats)" stroke="#000" stroke-width="1.5"/>
<rect x="582.05" y="332.90" width="23.00" height="118.10" fill="url(#pDm)" stroke="#000" stroke-width="1.5"/>
<text transform="translate(418.30,466.64) rotate(-45)" font-size="9.7" font-weight="bold" text-anchor="end" fill="#1a1a1a">Sham</text>
<text transform="translate(453.60,466.24) rotate(-45)" font-size="9.7" font-weight="bold" text-anchor="end" fill="#1a1a1a">Vehicle</text>
<text transform="translate(489.90,466.64) rotate(-45)" font-size="9.7" font-weight="bold" text-anchor="end" fill="#1a1a1a">MSN</text>
<text transform="translate(525.20,465.54) rotate(-45)" font-size="9.7" font-weight="bold" text-anchor="end" fill="#1a1a1a">NaHS</text>
<text transform="translate(561.50,465.74) rotate(-45)" font-size="9.7" font-weight="bold" text-anchor="end" fill="#1a1a1a">DATS</text>
<text transform="translate(597.10,464.84) rotate(-45)" font-size="9.7" font-weight="bold" text-anchor="end" fill="#1a1a1a">DATS-MSN</text>
</svg></body></html>
